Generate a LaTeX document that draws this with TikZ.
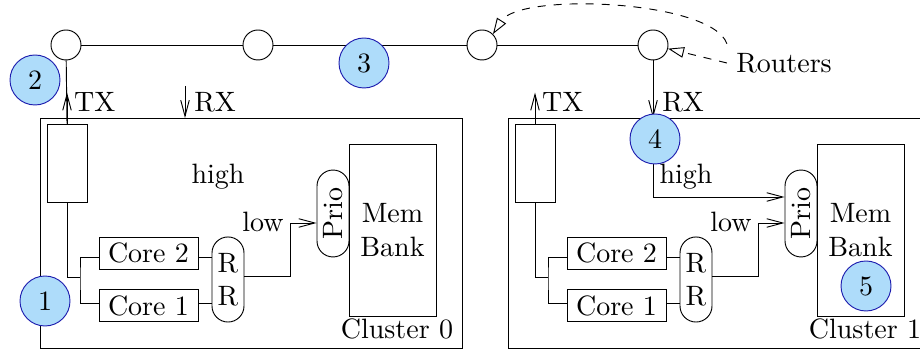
\documentclass[tikz,border=0pt]{standalone}
\usetikzlibrary{arrows.meta}
\definecolor{badgefill}{RGB}{174,220,250}
\definecolor{badgeline}{RGB}{30,30,175}
\tikzset{
    router/.style = {draw, circle, fill=white, minimum size=11.25pt, inner sep=0pt},
    badge/.style = {draw=badgeline, fill=badgefill, circle, minimum size=18.75pt, inner sep=0pt},
    unit-box/.style = {draw, rectangle, inner sep=0pt},
    pill-box/.style = {draw, rectangle, rounded corners=6pt, inner sep=0pt, minimum width=12pt},
    flow/.style = {-{Straight Barb[length=6pt,width=3.2pt]}},
    pointer/.style = {dashed, -{Triangle[open,length=6pt,width=4pt]}},
}

\begin{document}
\begin{tikzpicture}[x=0.375pt, y=-0.375pt, line width=0.35pt, font=\fontsize{10.5}{12.5}\selectfont]
\useasboundingbox (0,0) rectangle (920,354);

% routers on the ring
\node[router] (r1) at (66,45) {};
\node[router] (r2) at (258,45) {};
\node[router] (r3) at (482,45) {};
\node[router] (r4) at (653,45) {};
\draw (r1) -- (r2) -- (r3) -- (r4);
\node (routers) at (784,63) {Routers};
\draw[pointer] (routers.west) -- (r4);
\draw[pointer] (routers.north west) .. controls (712,0) and (520,-8) .. (r3.north east);

% the two clusters
\foreach \c in {0,1} {
\begin{scope}[xshift=\c*175.5pt]
    \node[unit-box, minimum width=158.25pt, minimum height=86.25pt] (cl\c) at (251,233) {};
    \node[anchor=south east] at (cl\c.south east) {Cluster \c};
    \node[unit-box, minimum width=15pt, minimum height=29.6pt] (buf\c) at (67,163.5) {};
    \node[unit-box, minimum width=37.1pt, minimum height=12pt] (core2-\c) at (148.5,253) {Core 2};
    \node[unit-box, minimum width=37.1pt, minimum height=12pt] (core1-\c) at (148.5,305.5) {Core 1};
    \node[pill-box, minimum height=31.9pt, align=center] (rr\c) at (228,279.5) {R\\R};
    \node[pill-box, minimum height=32.6pt] (prio\c) at (333,213.5) {\rotatebox{90}{Prio}};
    \node[unit-box, minimum width=32.6pt, minimum height=64.5pt, align=center] (mem\c) at (392.5,230) {Mem\\Bank};
    \node (high\c) at (218,177) {high};
    \node (low\c) at (263,222) {low};
    \coordinate (fork\c) at (80,277);
    \coordinate (rxtop\c) at (185,86);
    \coordinate (rx\c) at (185,118);
    \draw[flow] (buf\c.north) -- ++(0,-31) node[pos=0.7, right, inner sep=2.5pt] {TX};
    \draw[flow] (rxtop\c) -- (rx\c) node[pos=0.5, right] {RX};
    \draw (buf\c.south) |- (fork\c);
    \draw (core2-\c.west |- 0,257) -| (fork\c) |- (core1-\c.west |- 0,303);
    \draw (core2-\c.east |- 0,257) -- (rr\c.west |- 0,257);
    \draw (core1-\c.east |- 0,303) -- (rr\c.west |- 0,303);
    \draw[flow] (rr\c.east |- 0,276) -- ++(46,0) |- (prio\c.west |- 0,223);
\end{scope}
}

% links to the ring
\draw (r1) -- (buf0.north);
\draw (r4) -- (rxtop1);
\draw[flow] (rx1) |- (prio1.west |- 0,197);

% numbered marks
\node[badge] (b1) at (45,301) {1};
\node[badge] (b2) at (35,80) {2};
\node[badge] (b3) at (364,63) {3};
\node[badge] (b4) at (655,139) {4};
\node[badge] (b5) at (866,286) {5};
\end{tikzpicture}
\end{document}
